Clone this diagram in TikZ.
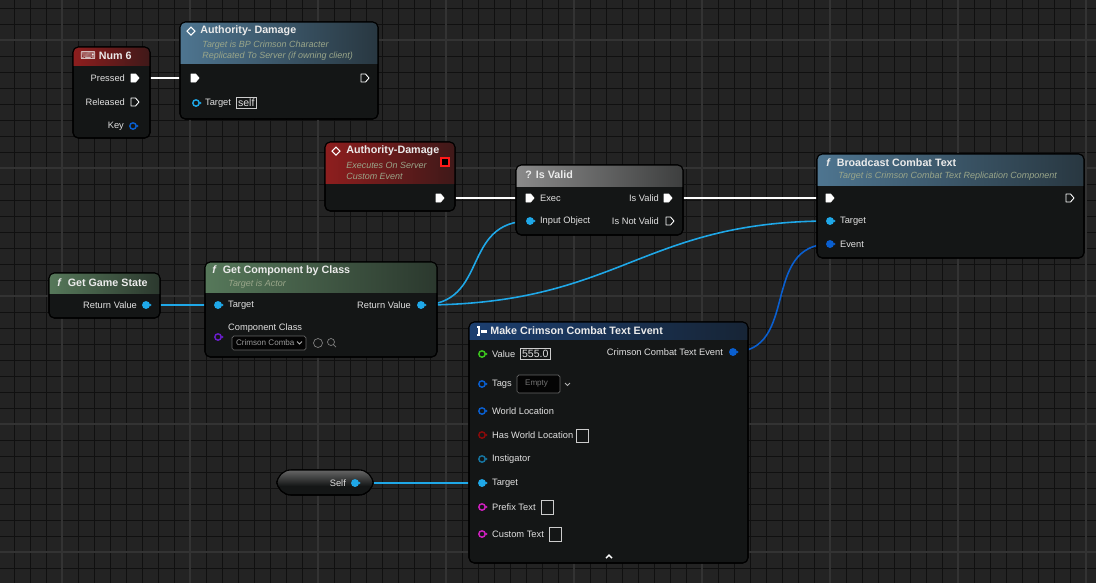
\documentclass[tikz,border=0pt]{standalone}
\usepackage{fontspec}
\setmainfont{Liberation Sans}
\newfontfamily\symfont{DejaVu Sans}
\usetikzlibrary{positioning}

\definecolor{bggrid}{HTML}{232323}
\definecolor{nodebody}{HTML}{141616}
\definecolor{pinblue}{HTML}{1FA8E8}
\definecolor{objblue}{HTML}{0A5FD0}
\definecolor{pinred}{HTML}{8A0A0A}
\definecolor{pingreen}{HTML}{3CC81E}
\definecolor{pinpink}{HTML}{D020C0}
\definecolor{pinpurple}{HTML}{6A1ECC}
\definecolor{subtxt}{HTML}{9AA68A}
\definecolor{hdrred}{HTML}{8E1E1E}
\definecolor{hdrsteel}{HTML}{4E7590}
\definecolor{hdrgray}{HTML}{8A8A8A}
\definecolor{hdrgreen}{HTML}{56785A}
\definecolor{hdrnavy}{HTML}{1C3F70}

\tikzset{
    body/.style = {fill=nodebody, draw=black, rounded corners=3pt, line width=0.6pt},
    pin/.style = {font=\fontsize{5.3}{6.5}\selectfont, text=white!88!black, inner sep=1pt},
    title/.style = {font=\bfseries\fontsize{6.1}{7}\selectfont, text=white!92!black, anchor=west, inner sep=0pt},
    sub/.style = {font=\itshape\fontsize{5.1}{6}\selectfont, text=subtxt, anchor=west, inner sep=0pt},
    execwire/.style = {draw=white, line width=1.3pt},
    datawire/.style = {draw=pinblue, line width=0.9pt},
    box/.style = {draw=white!80!black, line width=0.4pt, fill=nodebody}
}

% exec pin: #1 position, #2 fill
\newcommand{\execpin}[2]{%
    \filldraw[draw=white, fill=#2, line width=0.5pt, line join=round]
        (#1) ++(-4,-4) -- ++(4.5,0) -- ++(3.5,4) -- ++(-3.5,4) -- ++(-4.5,0) -- cycle;}
% data pin: #1 position, #2 colour, #3 fill
\newcommand{\datapin}[3]{%
    \filldraw[draw=#2, fill=#3, line width=0.8pt] (#1) circle (3.2);
    \fill[#2] (#1) ++(3.6,-1.6) -- ++(2,1.6) -- ++(-2,1.6) -- cycle;}
% node frame: #1 name, #2 left, #3 top, #4 right, #5 bottom, #6 header bottom, #7 header colour
\newcommand{\bpnode}[7]{%
    \fill[body] (#2,#3) rectangle (#4,#5);
    \begin{scope}
        \clip[rounded corners=3pt] (#2,#3) rectangle (#4,#5);
        \shade[left color=#7, right color=#7!35!nodebody] (#2,#3) rectangle (#4,#6);
    \end{scope}
    \draw[black, rounded corners=3pt, line width=0.6pt] (#2,#3) rectangle (#4,#5);
    \coordinate (#1) at (#2,#3);}

\begin{document}
\begin{tikzpicture}[x=0.02cm, y=-0.02cm]

    \useasboundingbox (0,0) rectangle (1096,583);
    \fill[bggrid] (0,0) rectangle (1096,583);
    % grid
    \foreach \gx in {0,16,...,1096} \draw[black!55!bggrid, line width=0.3pt] (\gx+14,0) -- (\gx+14,583);
    \foreach \gy in {0,16,...,583} \draw[black!55!bggrid, line width=0.3pt] (0,\gy+8) -- (1096,\gy+8);
    \foreach \gx in {0,128,...,1096} \draw[black!80, line width=0.9pt] (\gx+62,0) -- (\gx+62,583);
    \foreach \gy in {0,128,...,583} \draw[black!80, line width=0.9pt] (0,\gy+40) -- (1096,\gy+40);

    % wires
    \coordinate (pressed) at (135,78);
    \coordinate (authin) at (195,78);
    \coordinate (evout) at (440,198);
    \coordinate (ivin) at (530,198);
    \coordinate (ivout) at (668,198);
    \coordinate (bcin) at (830,198);
    \coordinate (ggsout) at (146,305);
    \coordinate (gcin) at (218,305);
    \coordinate (gcout) at (421,305);
    \coordinate (ivobj) at (530,221);
    \coordinate (bctarget) at (830,221);
    \coordinate (bcevent) at (830,244);
    \coordinate (mkout) at (733,352);
    \coordinate (selfout) at (355,483);
    \coordinate (mktarget) at (482,483);

    \draw[execwire] (pressed) -- (authin);
    \draw[execwire] (evout) -- (ivin);
    \draw[execwire] (ivout) -- (bcin);
    \draw[datawire] (ggsout) -- (gcin);
    \draw[datawire] (gcout) .. controls (490,305) and (460,221) .. (ivobj);
    \draw[datawire] (gcout) .. controls (620,305) and (640,221) .. (bctarget);
    \draw[datawire, draw=objblue] (mkout) .. controls (800,352) and (760,244) .. (bcevent);
    \draw[datawire] (selfout) -- (mktarget);

    % Num 6
    \bpnode{num}{73}{47}{150}{138}{65}{hdrred}
    \node[title] at (80,56) {{\symfont\char"2328}\ Num 6};
    \node[pin, anchor=east] at (127,78) {Pressed};
    \node[pin, anchor=east] at (127,102) {Released};
    \node[pin, anchor=east] at (126,126) {Key};
    \execpin{pressed}{white}
    \execpin{135,102}{nodebody}
    \datapin{133,126}{objblue}{nodebody}

    % Authority- Damage (call)
    \bpnode{authcall}{180}{22}{378}{119}{63}{hdrsteel}
    \node[title] at (200,31) {Authority- Damage};
    \node[sub] at (202,45) {Target is BP Crimson Character};
    \node[sub] at (202,56) {Replicated To Server (if owning client)};
    \draw[white, line width=0.6pt] (187,31) -- (191,27) -- (195,31) -- (191,35) -- cycle;
    \execpin{authin}{white}
    \execpin{365,78}{nodebody}
    \datapin{196,103}{pinblue}{nodebody}
    \node[pin, anchor=west] at (203,103) {Target};
    \node[pin, box, anchor=west, font=\fontsize{6}{7}\selectfont] at (236,103) {self};

    % Authority-Damage (event)
    \bpnode{authevent}{325}{142}{455}{211}{183}{hdrred}
    \node[title] at (346,151) {Authority-Damage};
    \node[sub] at (346,165) {Executes On Server};
    \node[sub] at (346,176) {Custom Event};
    \draw[white, line width=0.6pt] (332,151) -- (336,147) -- (340,151) -- (336,155) -- cycle;
    \draw[red!90!white, fill=black, line width=0.8pt] (441,158) rectangle (449,166);
    \execpin{evout}{white}

    % Is Valid
    \bpnode{isvalid}{516}{165}{683}{235}{186}{hdrgray}
    \node[title] at (525,175) {? Is Valid};
    \execpin{ivin}{white}
    \node[pin, anchor=west] at (538,198) {Exec};
    \node[pin, anchor=east] at (661,198) {Is Valid};
    \execpin{ivout}{white}
    \datapin{ivobj}{pinblue}{pinblue}
    \node[pin, anchor=west] at (538,221) {Input Object};
    \node[pin, anchor=east] at (661,221) {Is Not Valid};
    \execpin{670,221}{nodebody}

    % Broadcast Combat Text
    \bpnode{broadcast}{817}{154}{1084}{258}{185}{hdrsteel}
    \node[title] at (826,163) {\textit{f}\ \ Broadcast Combat Text};
    \node[sub] at (838,176) {Target is Crimson Combat Text Replication Component};
    \execpin{bcin}{white}
    \execpin{1070,198}{nodebody}
    \datapin{bctarget}{pinblue}{pinblue}
    \node[pin, anchor=west] at (838,221) {Target};
    \datapin{bcevent}{objblue}{objblue}
    \node[pin, anchor=west] at (838,244) {Event};

    % Get Game State
    \bpnode{ggs}{49}{273}{160}{318}{293}{hdrgreen}
    \node[title] at (57,283) {\textit{f}\ \ Get Game State};
    \node[pin, anchor=east] at (139,305) {Return Value};
    \datapin{ggsout}{pinblue}{pinblue}

    % Get Component by Class
    \bpnode{gcbc}{205}{262}{437}{357}{292}{hdrgreen}
    \node[title] at (212,271) {\textit{f}\ \ Get Component by Class};
    \node[sub] at (228,284) {Target is Actor};
    \datapin{gcin}{pinblue}{pinblue}
    \node[pin, anchor=west] at (226,305) {Target};
    \node[pin, anchor=east] at (413,305) {Return Value};
    \datapin{gcout}{pinblue}{pinblue}
    \datapin{218,337}{pinpurple}{nodebody}
    \node[pin, anchor=west] at (226,328) {Component Class};
    \draw[black!60, fill=black!80!nodebody, rounded corners=1pt] (232,336) rectangle (306,350);
    \node[pin, anchor=west, font=\fontsize{4.6}{5}\selectfont, text=white!60!black] at (234,343) {Crimson Comba};
    \draw[white!70!black, line width=0.5pt] (297,341.5) -- (299.5,344) -- (302,341.5);
    \draw[white!50!black, line width=0.4pt] (318,343) circle (4.5) (331,342) circle (3.5) (333.5,344.5) -- (336,347);

    % Make Crimson Combat Text Event
    \bpnode{make}{469}{322}{748}{563}{339}{hdrnavy}
    \draw[white, line width=0.6pt] (477,327) -- (479,327) -- (479,335) -- (477,335);
    \fill[white] (481,329.5) rectangle (487,332.5);
    \node[title] at (490,331) {Make Crimson Combat Text Event};
    \datapin{482,354}{pingreen}{nodebody}
    \node[pin, anchor=west] at (490,354) {Value};
    \node[pin, box, anchor=west, font=\fontsize{6}{7}\selectfont] at (520,354) {555.0};
    \node[pin, anchor=east] at (725,352) {Crimson Combat Text Event};
    \datapin{mkout}{objblue}{objblue}
    \datapin{482,384}{objblue}{nodebody}
    \node[pin, anchor=west] at (490,384) {Tags};
    \draw[black!60, fill=black!80!nodebody, rounded corners=1pt] (517,375) rectangle (560,393);
    \node[pin, anchor=west, font=\fontsize{4.6}{5}\selectfont, text=white!45!black] at (523,384) {Empty};
    \draw[white!70!black, line width=0.5pt] (565,383) -- (567.5,385.5) -- (570,383);
    \datapin{482,411}{objblue}{nodebody}
    \node[pin, anchor=west] at (490,411) {World Location};
    \datapin{482,435}{pinred}{nodebody}
    \node[pin, anchor=west] at (490,435) {Has World Location};
    \draw[box] (576,429) rectangle (588,442);
    \datapin{482,459}{pinblue!70!black}{nodebody}
    \node[pin, anchor=west] at (490,459) {Instigator};
    \datapin{mktarget}{pinblue}{pinblue}
    \node[pin, anchor=west] at (490,483) {Target};
    \datapin{482,507}{pinpink}{nodebody}
    \node[pin, anchor=west] at (490,507) {Prefix Text};
    \draw[box] (541,500) rectangle (553,514);
    \datapin{482,534}{pinpink}{nodebody}
    \node[pin, anchor=west] at (490,534) {Custom Text};
    \draw[box] (549,527) rectangle (561,541);
    \draw[white, line width=0.8pt] (606,558) -- (609,555) -- (612,558);

    % Self
    \fill[body, rounded corners=8pt] (277,470) rectangle (373,495);
    \begin{scope}
        \clip[rounded corners=8pt] (277,470) rectangle (373,495);
        \shade[top color=white!40!black, bottom color=nodebody] (277,470) rectangle (373,486);
    \end{scope}
    \draw[black, rounded corners=8pt, line width=0.6pt] (277,470) rectangle (373,495);
    \node[pin, anchor=east] (self) at (348,483) {Self};
    \datapin{selfout}{pinblue}{pinblue}

\end{tikzpicture}
\end{document}
